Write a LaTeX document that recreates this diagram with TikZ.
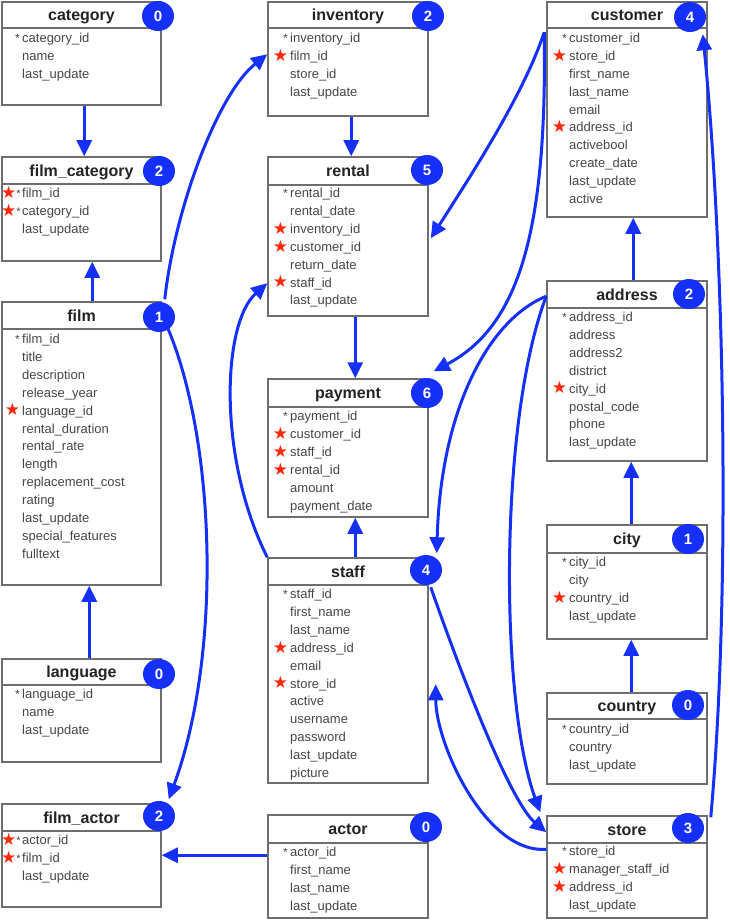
\documentclass[tikz,border=0pt]{standalone}
\usepackage{fontspec}
\setmainfont{Liberation Sans}
\newfontfamily\symfont{DejaVu Sans}
\usetikzlibrary{arrows.meta,calc,fit,shapes.geometric}
\definecolor{lnblue}{RGB}{20,48,250}
\definecolor{starred}{RGB}{255,40,10}
\definecolor{boxgray}{RGB}{110,110,110}
\definecolor{fldgray}{RGB}{70,70,70}
\definecolor{ttlgray}{RGB}{35,35,35}
\newcommand{\starsym}{{\symfont\fontsize{17}{17}\selectfont\raisebox{-0.8pt}{\textcolor{starred}{★}}}}
\newcommand{\pk}{\llap{{\fontsize{12}{12}\selectfont *}\hspace{2.5pt}}}
\newcommand{\fk}{\llap{\starsym\hspace{2pt}}}
\newcommand{\pkfk}{\llap{\starsym{\fontsize{11}{11}\selectfont *}\hspace{1.5pt}}}
\tikzset{
  tblbox/.style={draw=boxgray, line width=1.5pt, fill=white, inner sep=0pt},
  hdrline/.style={draw=boxgray, line width=2.2pt},
  ttl/.style={anchor=base, font=\bfseries\fontsize{16}{16}\selectfont, text=ttlgray, inner sep=0pt},
  fld/.style={anchor=base west, font=\fontsize{13}{13}\selectfont, text=fldgray, inner sep=0pt},
  badge/.style={ellipse, fill=lnblue, text=white, font=\bfseries\fontsize{15}{15}\selectfont, minimum width=32pt, minimum height=30pt, inner sep=0pt},
  conn/.style={draw=lnblue, line width=3pt, -{Triangle[length=16pt,width=15pt]}},
}
\newcommand{\dbtable}[7]{%
  \coordinate (#1-nw) at (#2,#3);
  \coordinate (#1-se) at (#4,#5);
  \node[tblbox, fit=(#1-nw)(#1-se)] (#1) {};
  \draw[hdrline] (#2,#6) -- (#4,#6);
  \node[ttl] (#1-title) at ({(#2+#4)/2},{(#3+#6)/2+5.5}) {#7};
}
\newcommand{\dbfields}[4]{%
  \foreach \f [count=\i from 0] in {#4} {\node[fld] (#1-f\i) at (#2,{#3+4.5+\i*17.9}) {\f};}
}
\begin{document}
\begin{tikzpicture}[x=1pt,y=-1pt]
\useasboundingbox (0,0) rectangle (730,920);
% left column
\dbtable{category}{2}{2}{161}{105}{28}{category}
\dbfields{category}{22}{38}{\pk category\_id, name, last\_update}
\dbtable{filmcat}{2}{157}{161}{261}{184}{film\_category}
\dbfields{filmcat}{22}{193}{\pkfk film\_id, \pkfk category\_id, last\_update}
\dbtable{film}{2}{302}{161}{585}{329}{film}
\dbfields{film}{22}{339}{\pk film\_id, title, description, release\_year, \fk language\_id, rental\_duration, rental\_rate, length, replacement\_cost, rating, last\_update, special\_features, fulltext}
\dbtable{language}{2}{659}{161}{762}{685}{language}
\dbfields{language}{22}{694}{\pk language\_id, name, last\_update}
\dbtable{filmactor}{2}{804}{161}{907}{831}{film\_actor}
\dbfields{filmactor}{22}{840}{\pkfk actor\_id, \pkfk film\_id, last\_update}
% middle column
\dbtable{inventory}{268}{2}{428}{116}{28}{inventory}
\dbfields{inventory}{290}{38}{\pk inventory\_id, \fk film\_id, store\_id, last\_update}
\dbtable{rental}{268}{157}{428}{316}{185}{rental}
\dbfields{rental}{290}{193}{\pk rental\_id, rental\_date, \fk inventory\_id, \fk customer\_id, return\_date, \fk staff\_id, last\_update}
\dbtable{payment}{268}{379}{428}{517}{407}{payment}
\dbfields{payment}{290}{416}{\pk payment\_id, \fk customer\_id, \fk staff\_id, \fk rental\_id, amount, payment\_date}
\dbtable{staff}{268}{558}{428}{783}{585}{staff}
\dbfields{staff}{290}{594}{\pk staff\_id, first\_name, last\_name, \fk address\_id, email, \fk store\_id, active, username, password, last\_update, picture}
\dbtable{actor}{268}{815}{428}{918}{843}{actor}
\dbfields{actor}{290}{852}{\pk actor\_id, first\_name, last\_name, last\_update}
% right column
\dbtable{customer}{547}{2}{707}{217}{28}{customer}
\dbfields{customer}{569}{38}{\pk customer\_id, \fk store\_id, first\_name, last\_name, email, \fk address\_id, activebool, create\_date, last\_update, active}
\dbtable{address}{547}{281}{707}{461}{308}{address}
\dbfields{address}{569}{317}{\pk address\_id, address, address2, district, \fk city\_id, postal\_code, phone, last\_update}
\dbtable{city}{547}{525}{707}{639}{553}{city}
\dbfields{city}{569}{562}{\pk city\_id, city, \fk country\_id, last\_update}
\dbtable{country}{547}{693}{707}{784}{719}{country}
\dbfields{country}{569}{729}{\pk country\_id, country, last\_update}
\dbtable{store}{547}{816}{707}{918}{843}{store}
\dbfields{store}{569}{851}{\pk store\_id, \fk manager\_staff\_id, \fk address\_id, last\_update}
% connectors
\draw[conn] ($(category.south west)+(83,0)$) -- ($(filmcat.north west)+(83,0)$);
\draw[conn] ($(film.north west)+(91,0)$) -- ($(filmcat.south west)+(91,0)$);
\draw[conn] ($(language.north west)+(88,0)$) -- ($(film.south west)+(88,0)$);
\draw[conn] ($(film.north east)+(3,-2)$) .. controls +(10,-90) and +(-50,40) .. ($(inventory.north west)+(0,53)$);
\draw[conn] ($(film.north east)+(3,20)$) .. controls +(50,110) and +(55,-150) .. ($(filmactor.north east)+(7,-4)$);
\draw[conn] ($(actor.north west)+(0,41)$) -- ($(filmactor.north east)+(0,52)$);
\draw[conn] ($(inventory.south west)+(84,0)$) -- ($(rental.north west)+(84,0)$);
\draw[conn] ($(rental.south west)+(88,0)$) -- ($(payment.north west)+(88,0)$);
\draw[conn] ($(staff.north west)+(88,0)$) -- ($(payment.south west)+(88,0)$);
\draw[conn] (staff.north west) .. controls +(-50,-100) and +(-45,40) .. ($(rental.north west)+(0,127)$);
\draw[conn] ($(customer.north west)+(-2,31)$) .. controls +(-20,60) and +(45,-70) .. ($(rental.north east)+(2,82)$);
\draw[conn] ($(customer.north west)+(-2,31)$) .. controls +(3,200) and +(85,-45) .. ($(payment.north east)+(5,-7)$);
\draw[conn] ($(address.north west)+(87,0)$) -- ($(customer.south west)+(87,0)$);
\draw[conn] ($(city.north west)+(85,0)$) -- ($(address.south west)+(85,0)$);
\draw[conn] ($(country.north west)+(85,0)$) -- ($(city.south west)+(85,0)$);
\draw[conn] ($(address.north west)+(0,16)$) .. controls +(-57,23) and +(4,-145) .. ($(staff.north east)+(8,-4)$);
\draw[conn] ($(address.north west)+(0,16)$) .. controls +(-47,123) and +(-41,-113) .. ($(store.north west)+(-6,-3)$);
\draw[conn] ($(staff.north east)+(2,30)$) .. controls +(35,100) and +(-35,-30) .. ($(store.north west)+(0,17)$);
\draw[conn] ($(store.north west)+(0,34)$) .. controls +(-60,5) and +(0,60) .. ($(staff.north east)+(7,127)$);
\draw[conn] ($(store.north east)+(3,2)$) .. controls +(20,-220) and +(22,220) .. ($(customer.north east)+(-5,33)$);
% badges
\node[badge] (category-b) at (158,16) {0};
\node[badge] (filmcat-b) at (159,171) {2};
\node[badge] (film-b) at (159,317) {1};
\node[badge] (language-b) at (159,674) {0};
\node[badge] (filmactor-b) at (159,816) {2};
\node[badge] (inventory-b) at (428,16) {2};
\node[badge] (rental-b) at (427,170) {5};
\node[badge] (payment-b) at (427,393) {6};
\node[badge] (staff-b) at (426,570) {4};
\node[badge] (actor-b) at (426,827) {0};
\node[badge] (customer-b) at (690,17) {4};
\node[badge] (address-b) at (689,294) {2};
\node[badge] (city-b) at (688,539) {1};
\node[badge] (country-b) at (688,705) {0};
\node[badge] (store-b) at (688,828) {3};
\end{tikzpicture}
\end{document}
